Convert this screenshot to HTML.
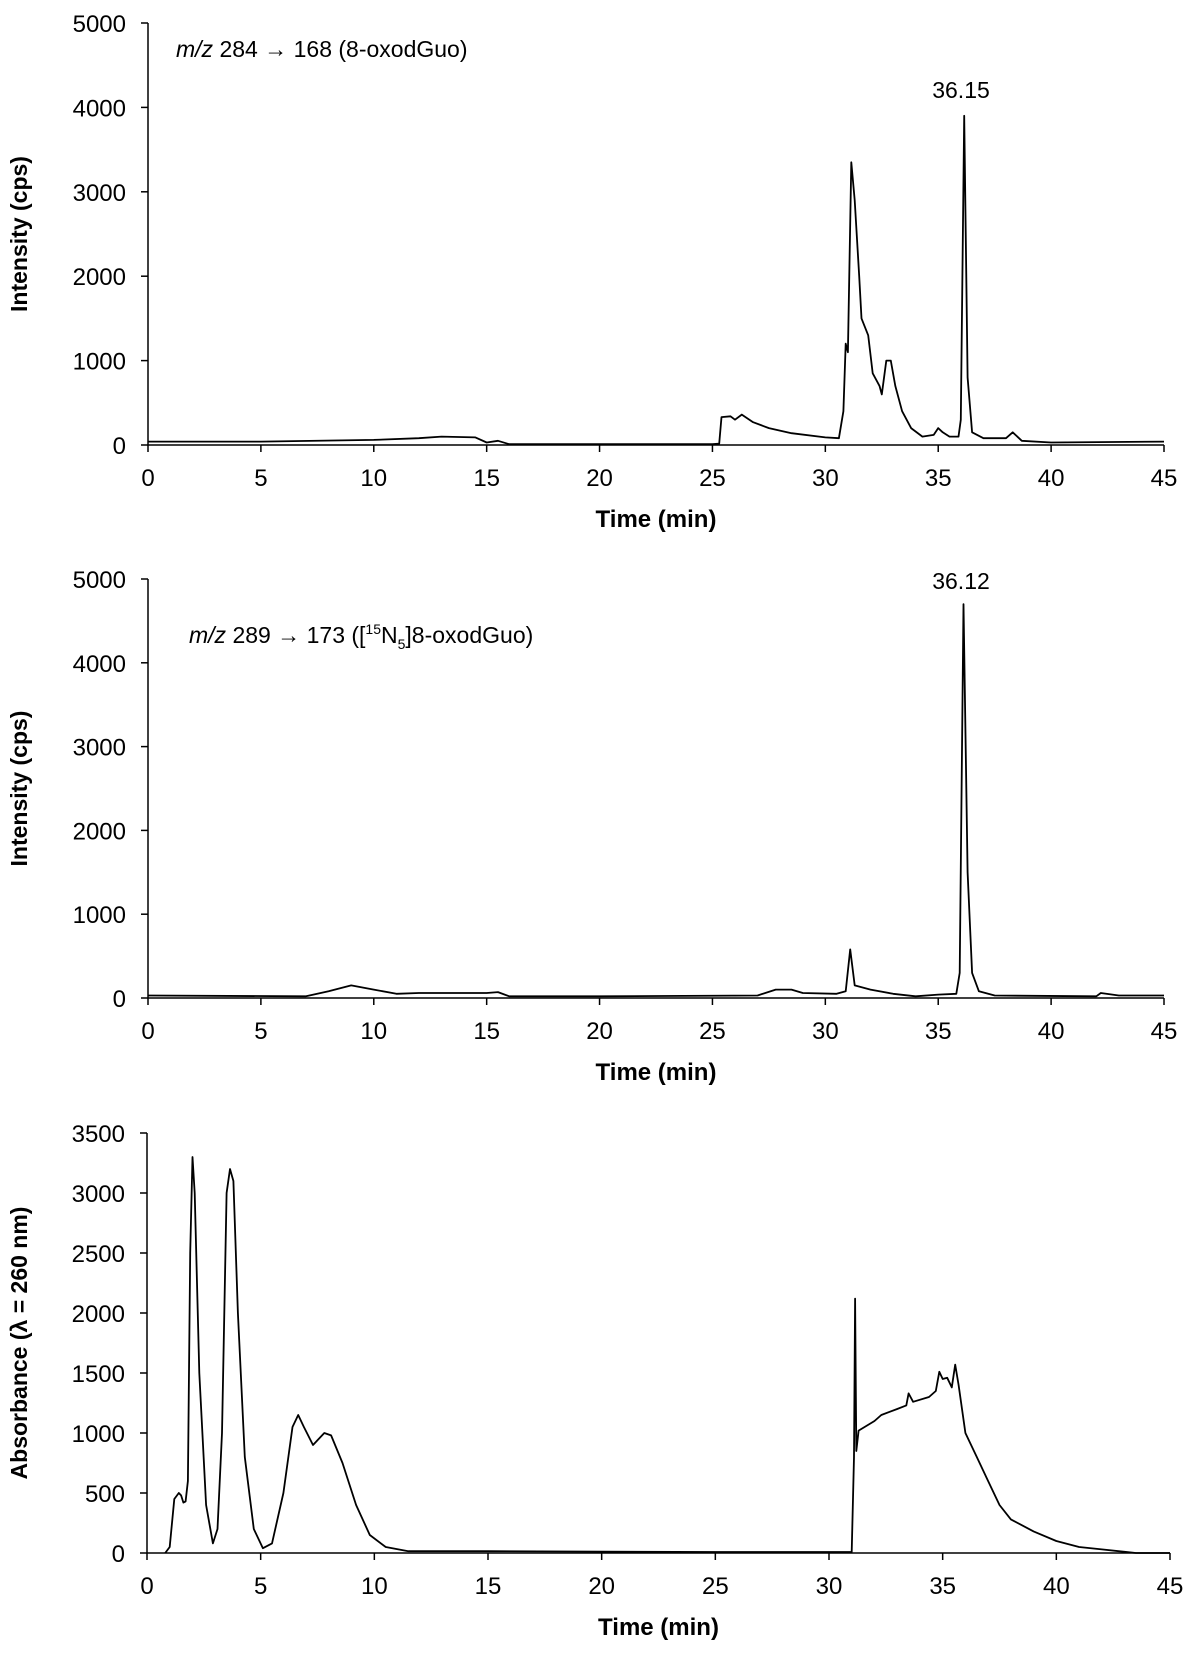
<!DOCTYPE html>
<html><head><meta charset="utf-8"><style>
html,body{margin:0;padding:0;background:#fff;}
svg{display:block;}
text{font-family:"Liberation Sans",sans-serif;fill:#000;}
</style></head><body>
<svg id="fig" width="1200" height="1662" viewBox="0 0 1200 1662" xmlns="http://www.w3.org/2000/svg"></svg>
<script>
const xTicks=[0,5,10,15,20,25,30,35,40,45];
const yTicks1=[0,1000,2000,3000,4000,5000];
const yTicks3=[0,500,1000,1500,2000,2500,3000,3500];
const t1=[0,5,10,12,13,14.5,15,15.5,16,20,25,25.3,25.4,25.8,26,26.3,26.8,27.5,28.5,30,30.6,30.8,30.9,31.0,31.15,31.3,31.5,31.6,31.9,32.1,32.4,32.5,32.7,32.9,33.1,33.4,33.8,34.3,34.8,35.0,35.2,35.5,35.9,36.0,36.15,36.3,36.5,37,38,38.3,38.7,40,45];
const v1=[40,40,60,80,100,90,30,50,10,10,10,15,330,340,300,360,270,200,140,90,80,400,1200,1100,3350,2900,2000,1500,1300,850,700,600,1000,1000,700,400,200,100,120,200,150,100,100,300,3900,800,150,80,80,150,50,30,40];
const t2=[0,7,8,9,10,11,12,15,15.5,16,20,27,27.8,28.5,29,30.5,30.9,31.1,31.3,32,33,34,35,35.8,35.95,36.12,36.3,36.5,36.8,37.5,42,42.2,43,45];
const v2=[30,20,80,150,100,50,60,60,70,20,20,30,100,100,60,50,80,580,150,100,50,20,40,50,300,4700,1500,300,80,30,20,60,30,30];
const t3=[0.8,1.0,1.2,1.4,1.5,1.6,1.7,1.8,1.9,2.0,2.1,2.3,2.6,2.9,3.1,3.3,3.5,3.65,3.8,4.0,4.3,4.7,5.1,5.5,6.0,6.4,6.65,6.9,7.3,7.8,8.1,8.6,9.2,9.8,10.5,11.5,15,20,25,31.0,31.1,31.15,31.2,31.3,32,32.3,33,33.4,33.5,33.7,34.4,34.7,34.85,35.0,35.2,35.4,35.55,35.7,36.0,36.5,37,37.5,38,39,40,41,42,43,43.5,45];
const v3=[0,50,450,500,480,420,430,600,2500,3300,3000,1500,400,80,200,1000,3000,3200,3100,2000,800,200,40,80,500,1050,1150,1050,900,1000,980,750,400,150,50,15,15,12,8,8,800,2120,850,1020,1100,1150,1200,1230,1330,1260,1300,1350,1510,1450,1460,1380,1570,1400,1000,800,600,400,280,180,100,50,30,10,0,0];

const NS="http://www.w3.org/2000/svg";
const svg=document.getElementById('fig');
function mk(tag,attrs,parent){const e=document.createElementNS(NS,tag);for(const k in attrs)e.setAttribute(k,attrs[k]);(parent||svg).appendChild(e);return e;}

function chart(cfg){
  const g=mk('g',{});
  
  
  const xs=v=>cfg.x0+(cfg.x1-cfg.x0)*(v/45);
  const ys=v=>cfg.y0+(cfg.yTop-cfg.y0)*(v/cfg.yMax);
  const ax=mk('path',{d:`M${cfg.x0},${cfg.yTop}V${cfg.y0}H${cfg.x1}`,stroke:'#000','stroke-width':1.5,fill:'none'},g);
  
  
  xTicks.forEach(t=>{
    const x=xs(t);
    mk('line',{x1:x,x2:x,y1:cfg.y0,y2:cfg.y0+7,stroke:'#000','stroke-width':1.5},g);
    const tx=mk('text',{x:x,y:cfg.y0+41,'text-anchor':'middle','font-size':24},g);
    tx.textContent=t;
    
    
  });
  cfg.yTicks.forEach(t=>{
    const y=ys(t);
    mk('line',{x1:cfg.x0-7,x2:cfg.x0,y1:y,y2:y,stroke:'#000','stroke-width':1.5},g);
    const tx=mk('text',{x:cfg.x0-22,y:y+9,'text-anchor':'end','font-size':24},g);
    tx.textContent=t;
    
    
  });
  const xt=mk('text',{x:(cfg.x0+cfg.x1)/2,y:cfg.y0+82,'text-anchor':'middle','font-size':24,'font-weight':'bold'},g);
  xt.textContent='Time (min)';
  
  
  const cy=(cfg.y0+cfg.yTop)/2;
  const yt=mk('text',{x:0,y:0,'text-anchor':'middle','font-size':23,'font-weight':'bold',transform:`translate(27,${cy}) rotate(-90)`},g);
  yt.textContent=cfg.ytitle;
  
  
  let d='';
  cfg.t.forEach((t,i)=>{d+=(i?'L':'M')+xs(t).toFixed(1)+','+ys(cfg.v[i]).toFixed(1);});
  const ln=mk('path',{d:d,stroke:'#000','stroke-width':1.8,fill:'none','stroke-linejoin':'round'},g);
  
  
  return {g,xs,ys};
}

const c1=chart({name:'chart-8-oxodguo',x0:148,x1:1164,y0:445,yTop:23,yMax:5000,yTicks:yTicks1,t:t1,v:v1,ytitle:'Intensity (cps)'});
const c2=chart({name:'chart-15n5-8-oxodguo',x0:148,x1:1164,y0:998,yTop:579,yMax:5000,yTicks:yTicks1,t:t2,v:v2,ytitle:'Intensity (cps)'});
const c3=chart({name:'chart-absorbance',x0:147,x1:1170,y0:1553,yTop:1133,yMax:3500,yTicks:yTicks3,t:t3,v:v3,ytitle:'Absorbance (λ = 260 nm)'});
</script>
<svg style="position:absolute;left:0;top:0" width="1200" height="1662">
  <text x="176" y="57" font-size="23"><tspan font-style="italic">m/z</tspan> 284 → 168 (8-oxodGuo)</text>
  <text x="961" y="98" font-size="23" text-anchor="middle">36.15</text>
  <text x="189" y="643" font-size="23"><tspan font-style="italic">m/z</tspan> 289 → 173 ([<tspan font-size="14" dy="-9">15</tspan><tspan dy="9">N</tspan><tspan font-size="14" dy="6">5</tspan><tspan dy="-6">]8-oxodGuo)</tspan></text>
  <text x="961" y="589" font-size="23" text-anchor="middle">36.12</text>
</svg>
</body></html>
